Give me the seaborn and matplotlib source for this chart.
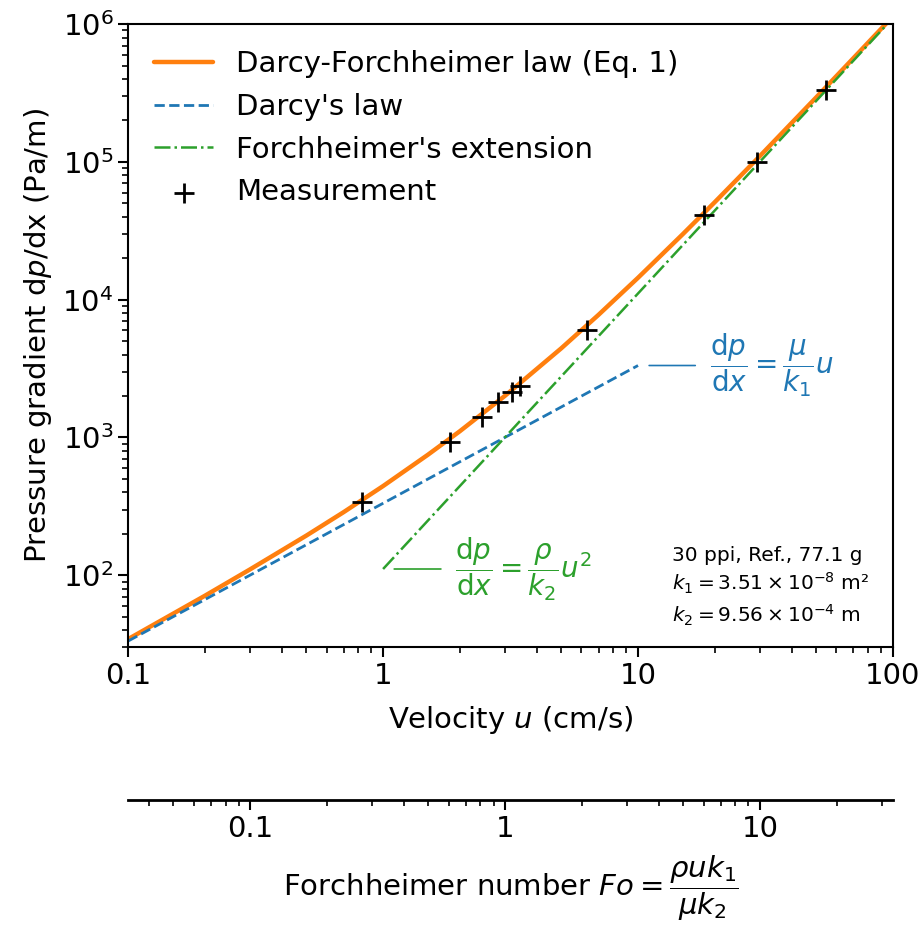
import numpy as np
import pandas as pd
import matplotlib
matplotlib.use("Agg")
import matplotlib.pyplot as plt
import matplotlib.ticker as mticker
import seaborn as sns

# velocity u (cm/s) and pressure gradient dp/dx (Pa/m)
u_curve = [0.1, 0.2, 0.3, 0.5, 0.7, 1, 1.5, 2, 3, 5, 7, 10, 15, 20, 30, 50, 70, 100]
dp_curve = [34.4, 71, 110, 194, 287, 444, 750, 1110, 2000, 4440, 7770, 14430,
            29970, 51060, 109890, 294150, 567210, 1140000]

u_darcy = [0.1, 10]
dp_darcy = [33.3, 3330]

u_forch = [1, 100]
dp_forch = [111, 1110000]

u_meas = [0.83, 1.83, 2.45, 2.83, 3.21, 3.45, 6.3, 18.1, 29.2, 54.4]
dp_meas = [339, 925, 1403, 1803, 2128, 2355, 6010, 41000, 99600, 332000]

# Fo = rho*u*k1/(mu*k2) per cm/s of velocity
fo_per_u = 0.332
fo_ticks = [0.1, 1, 10]

orange = "#ff7f0e"
blue = "#1f77b4"
green = "#2ca02c"

sns.set_style("ticks")
plt.rcParams["font.family"] = ["DejaVu Sans"]
plt.rcParams["mathtext.fontset"] = "dejavusans"
for k in ["text.color", "axes.labelcolor", "xtick.color", "ytick.color", "axes.edgecolor"]:
    plt.rcParams[k] = "black"

fig = plt.figure(figsize=(9.22, 9.3), dpi=100)
ax = fig.add_axes([0.139, 0.304, 0.8295, 0.670])

sns.lineplot(x=u_curve, y=dp_curve, ax=ax, color=orange, lw=3.2,
             label="Darcy-Forchheimer law (Eq. 1)")
sns.lineplot(x=u_darcy, y=dp_darcy, ax=ax, color=blue, lw=2, linestyle="--",
             label="Darcy's law")
sns.lineplot(x=u_forch, y=dp_forch, ax=ax, color=green, lw=1.8, linestyle="-.",
             label="Forchheimer's extension")
sns.scatterplot(x=u_meas, y=dp_meas, ax=ax, marker="+", color="black", s=210,
                linewidth=2, label="Measurement", zorder=5)

ax.set_xscale("log")
ax.set_yscale("log")
ax.set_xlim(0.1, 100)
ax.set_ylim(30, 1e6)

ax.xaxis.set_major_formatter(mticker.FuncFormatter(lambda v, p: f"{v:g}"))
ax.xaxis.set_minor_formatter(mticker.NullFormatter())
ax.tick_params(axis="both", which="major", labelsize=21, length=7, width=1.5)
ax.tick_params(axis="both", which="minor", length=4, width=1.2)
for s in ax.spines.values():
    s.set_linewidth(1.5)

ax.set_xlabel(r"Velocity $u$ (cm/s)", fontsize=21, labelpad=10)
ax.set_ylabel(r"Pressure gradient d$p$/dx (Pa/m)", fontsize=21, labelpad=6)

leg = ax.legend(loc="upper left", frameon=False, fontsize=21,
                handlelength=2.0, borderaxespad=0.5, labelspacing=0.5)

# equation labels
ax.annotate(r"$\dfrac{\mathrm{d}p}{\mathrm{d}x} = \dfrac{\mu}{k_1}u$",
            xy=(10, 3330), xytext=(19.1, 3330), color=blue, fontsize=20,
            va="center", ha="left",
            arrowprops=dict(arrowstyle="-", color=blue, lw=1.2, shrinkA=8, shrinkB=8))
ax.annotate(r"$\dfrac{\mathrm{d}p}{\mathrm{d}x} = \dfrac{\rho}{k_2}u^2$",
            xy=(1, 111), xytext=(1.92, 111), color=green, fontsize=20,
            va="center", ha="left",
            arrowprops=dict(arrowstyle="-", color=green, lw=1.2, shrinkA=8, shrinkB=8))

ax.text(0.711, 0.162,
        "30 ppi, Ref., 77.1 g\n"
        r"$k_1 = 3.51\times10^{-8}$ m²" "\n"
        r"$k_2 = 9.56\times10^{-4}$ m",
        transform=ax.transAxes, fontsize=14.5, va="top", ha="left", linespacing=1.3)

# secondary axis: Forchheimer number
sec = ax.secondary_xaxis(-0.245, functions=(lambda u: u * fo_per_u,
                                            lambda f: f / fo_per_u))
sec.set_xticks(fo_ticks)
sec.xaxis.set_major_formatter(mticker.FuncFormatter(lambda v, p: f"{v:g}"))
sec.xaxis.set_minor_formatter(mticker.NullFormatter())
sec.tick_params(axis="x", which="major", labelsize=21, length=7, width=1.5)
sec.tick_params(axis="x", which="minor", length=4, width=1.2)
sec.spines["bottom"].set_linewidth(2)
sec.set_xlabel(r"Forchheimer number $Fo = \dfrac{\rho u k_1}{\mu k_2}$", fontsize=21,
               labelpad=8)

fig.savefig("out.png", dpi=100)
